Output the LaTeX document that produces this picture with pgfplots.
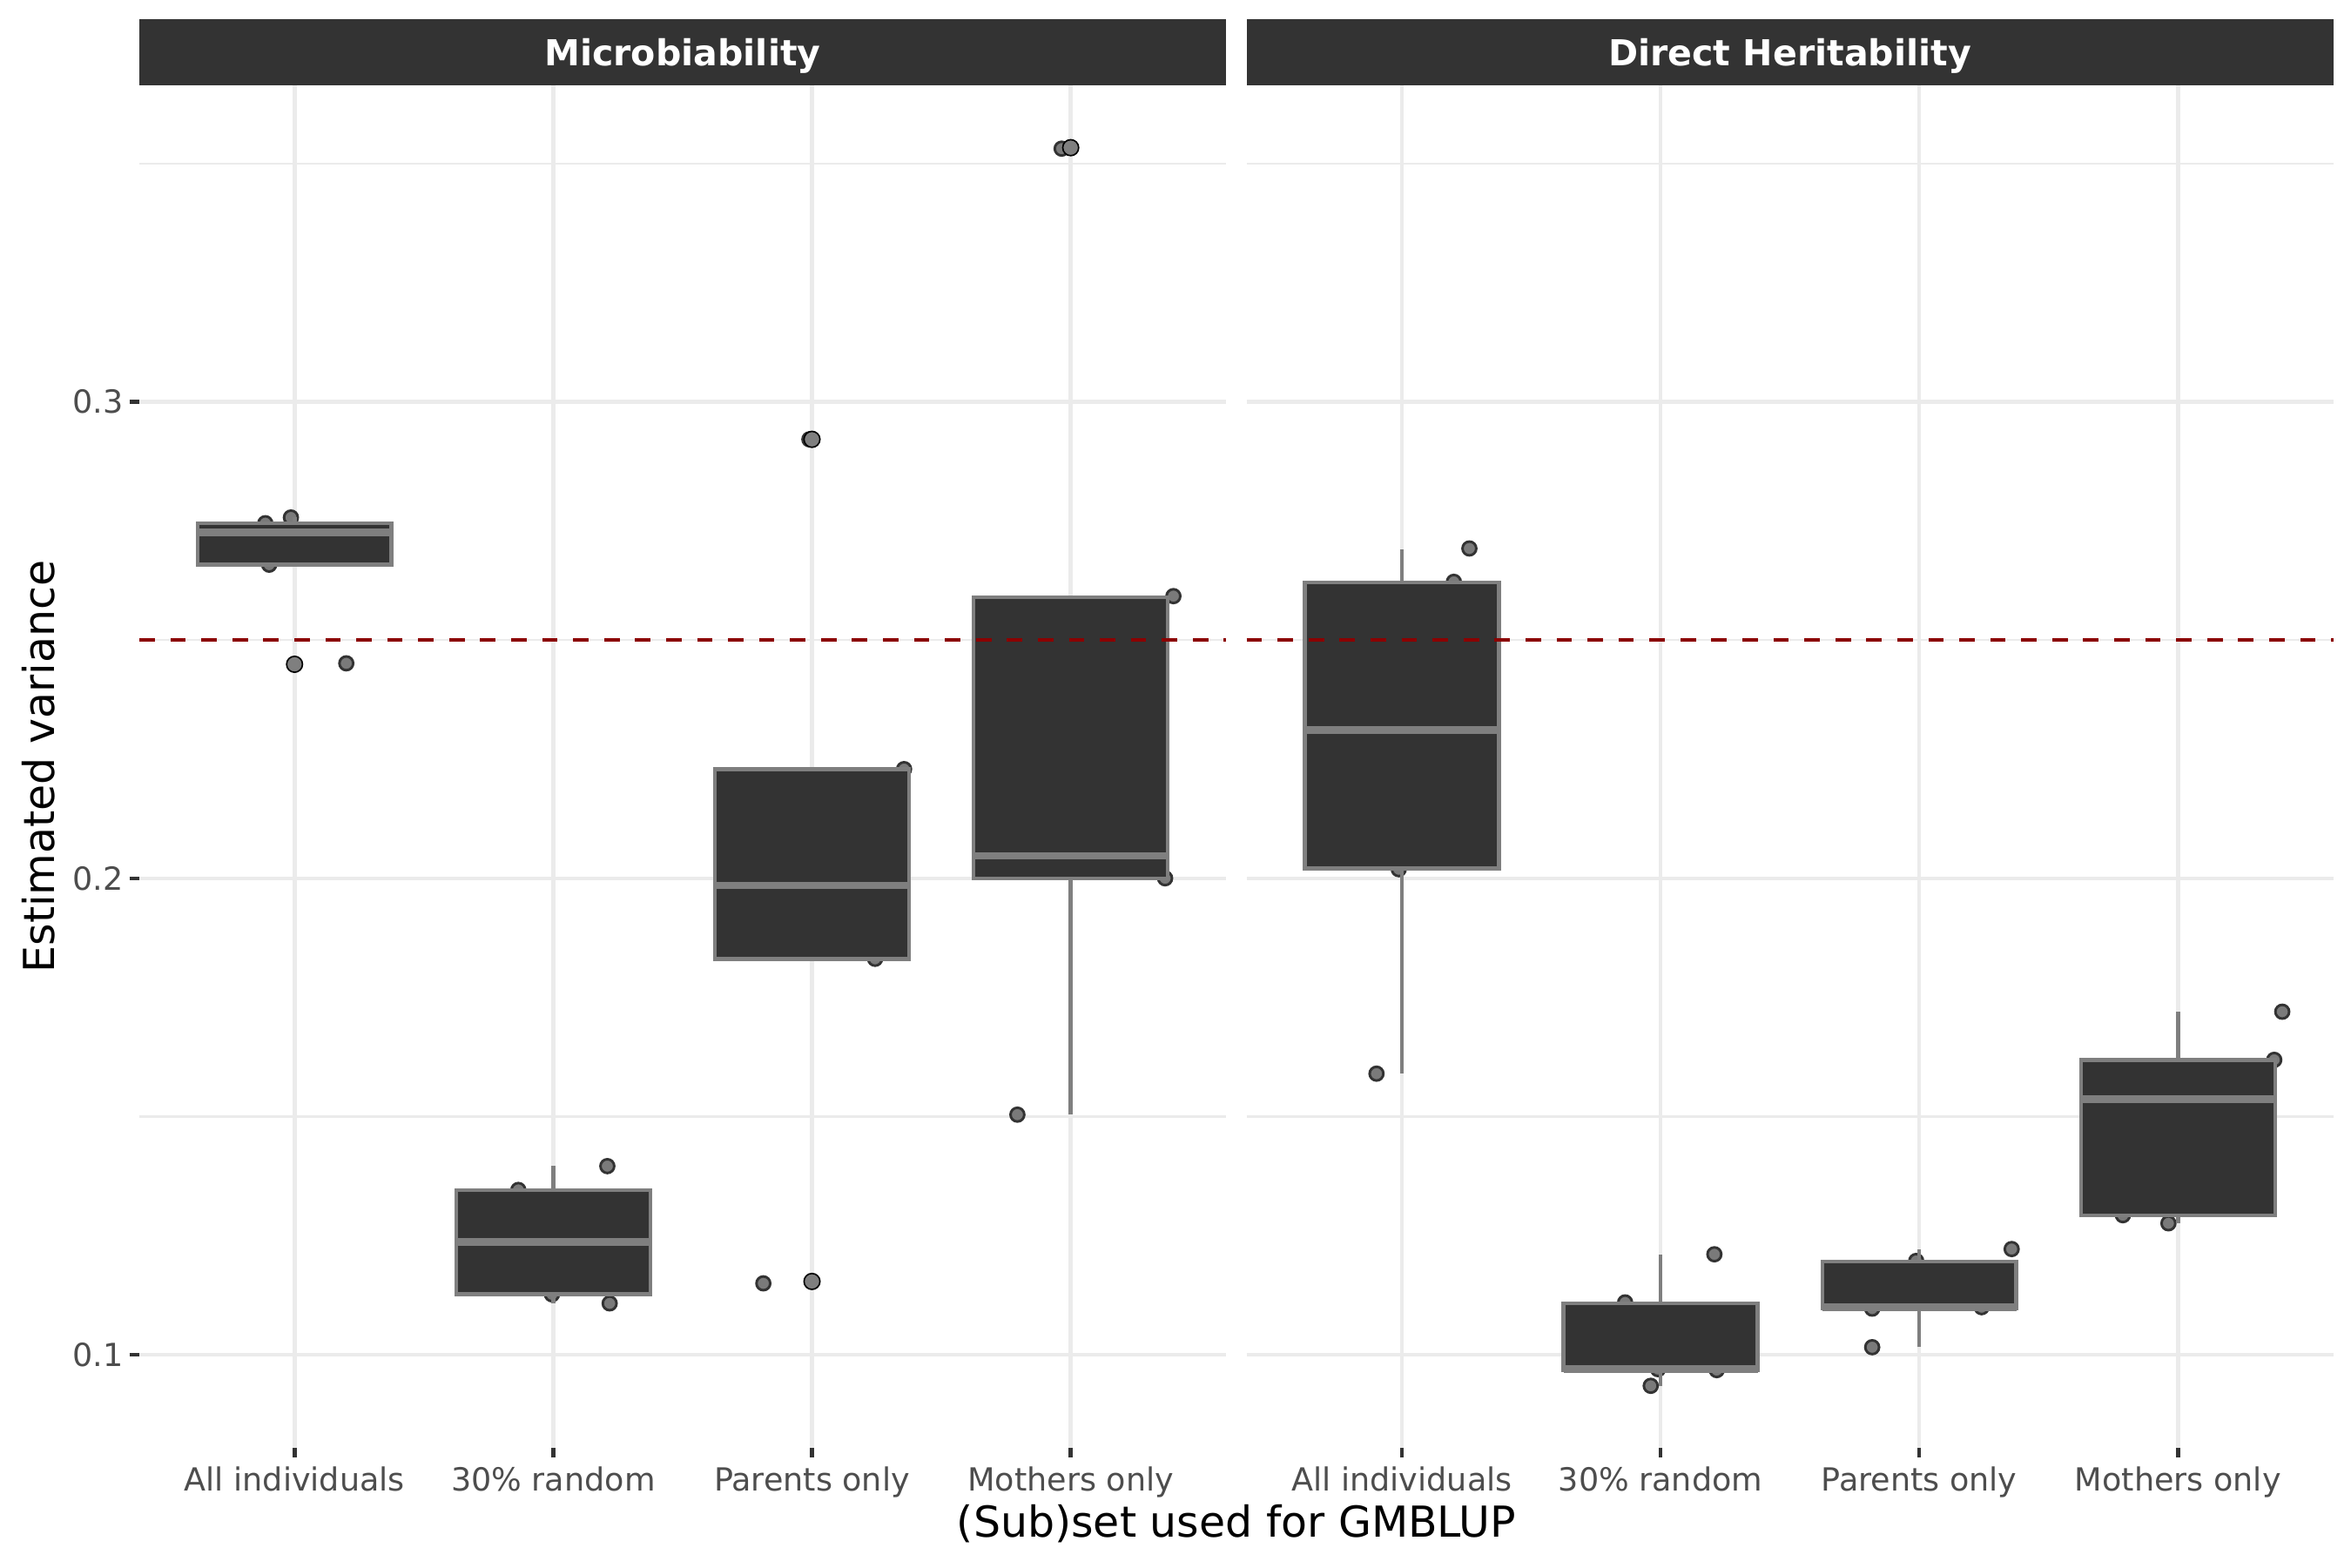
\documentclass[border=0pt]{standalone}
\usepackage{fontspec}
\setmainfont{DejaVu Sans}
\usepackage{pgfplots}
\pgfplotsset{compat=1.18}

\definecolor{stripbg}{HTML}{333333}
\definecolor{boxfill}{HTML}{333333}
\definecolor{boxline}{HTML}{7F7F7F}
\definecolor{gridc}{HTML}{EBEBEB}
\definecolor{ticklab}{HTML}{4D4D4D}
\definecolor{tickc}{HTML}{333333}
\definecolor{refred}{HTML}{8B0000}
\definecolor{ptfill}{HTML}{7A7A7A}
\definecolor{ptedge}{HTML}{333333}

\pgfplotsset{
  facet/.style={
    scale only axis, width=299.5bp, height=375.6bp,
    xmin=0.4, xmax=4.6, ymin=0.0805, ymax=0.3664,
    axis line style={draw=none},
    clip=false, clip marker paths=true,
    xtick={1,2,3,4},
    xticklabels={All individuals, 30\% random, Parents only, Mothers only},
    ytick={0.1,0.2,0.3}, minor ytick={0.15,0.25,0.35},
    grid=both,
    major grid style={draw=gridc, line width=1.07bp},
    minor grid style={draw=gridc, line width=0.53bp},
    tick align=outside, major tick length=2.7bp, minor tick length=0pt,
    xtick pos=lower, ytick pos=left,
    tick style={draw=tickc, line width=1.07bp},
    /pgf/number format/assume math mode=true,
    yticklabel style={font=\fontsize{8.8}{10}\selectfont, text=ticklab, anchor=east, inner sep=0pt, xshift=-1.5bp},
    xticklabel style={font=\fontsize{8.8}{10}\selectfont, text=ticklab, anchor=north, inner sep=0pt, yshift=-2.3bp},
    yticklabel={\pgfmathprintnumber[fixed,precision=1]{\tick}},
  },
  jit/.style={only marks, mark=*, mark size=1.9bp,
    mark options={fill=ptfill, draw=ptedge, line width=0.7bp}},
  outl/.style={only marks, mark=*, mark size=2.2bp,
    mark options={fill=boxline, draw=none}},
  wsk/.style={draw=boxline, line width=1.07bp, mark=none},
  boxs/.style={draw=boxline, fill=boxfill, line width=1.07bp, mark=none},
  med/.style={draw=boxline, line width=2.13bp, mark=none},
  refline/.style={refred, line width=1.07bp, mark=none, dash pattern=on 4.27bp off 4.27bp},
}

% box: #1 centre, #2 left edge, #3 right edge, #4 lower whisker, #5 lower quartile,
% #6 median, #7 upper quartile, #8 upper whisker
\newcommand{\gbox}[8]{%
  \addplot[wsk] coordinates {(#1,#4) (#1,#5)};
  \addplot[wsk] coordinates {(#1,#7) (#1,#8)};
  \addplot[boxs] coordinates {(#2,#5) (#3,#5) (#3,#7) (#2,#7)} -- cycle;
  \addplot[med] coordinates {(#2,#6) (#3,#6)};}

\newcommand{\strip}[1]{%
  \fill[stripbg] (rel axis cs:0,1) rectangle ([yshift=18.2bp]rel axis cs:1,1);
  \node[text=white, anchor=base, font=\fontsize{9.9}{11}\selectfont\bfseries]
    at ([yshift=5.3bp]rel axis cs:0.5,1) {#1};}

\begin{document}
\begin{tikzpicture}
\path[use as bounding box] (0,0) rectangle (648bp,432bp);

% ---------- Microbiability ----------
\begin{axis}[facet, at={(38.4bp,32.9bp)}, anchor=south west]
\addplot[jit] table {
x y
0.887 0.2745
0.986 0.2757
0.902 0.2658
1.200 0.2451
1.050 0.2726
1.865 0.1346
2.209 0.1396
1.995 0.1127
2.218 0.1108
2.050 0.1237
3.356 0.2229
3.244 0.1831
2.812 0.1150
2.990 0.2921
3.100 0.1985
3.965 0.3531
4.397 0.2592
4.365 0.2000
3.794 0.1504
4.100 0.2047
};
\gbox{1}{0.625}{1.375}{0.2658}{0.2658}{0.2726}{0.2745}{0.2757}
\gbox{2}{1.625}{2.375}{0.1108}{0.1127}{0.1237}{0.1346}{0.1396}
\gbox{3}{2.625}{3.375}{0.1831}{0.1831}{0.1985}{0.2229}{0.2229}
\gbox{4}{3.625}{4.375}{0.1504}{0.2000}{0.2047}{0.2590}{0.2590}
\addplot[outl] coordinates {(1,0.2449) (3,0.1154) (3,0.2921) (4,0.3533)};
\addplot[refline] coordinates {(0.4,0.25) (4.6,0.25)};
\strip{Microbiability}
\end{axis}

% ---------- Direct Heritability ----------
\begin{axis}[facet, at={(343.6bp,32.9bp)}, anchor=south west,
  yticklabels={}, every y tick/.style={draw=none}]
\addplot[jit] table {
x y
1.261 0.2692
1.201 0.2622
0.988 0.2019
0.902 0.1590
1.100 0.2311
1.863 0.1110
2.208 0.1211
1.990 0.0970
2.217 0.0968
1.962 0.0935
2.988 0.1197
3.357 0.1222
2.818 0.1097
3.241 0.1100
2.818 0.1016
3.787 0.1293
3.963 0.1276
4.403 0.1720
4.372 0.1619
4.100 0.1537
};
\gbox{1}{0.625}{1.375}{0.1590}{0.2021}{0.2311}{0.2621}{0.2691}
\gbox{2}{1.625}{2.375}{0.0935}{0.0968}{0.0970}{0.1108}{0.1210}
\gbox{3}{2.625}{3.375}{0.1016}{0.1097}{0.1100}{0.1196}{0.1221}
\gbox{4}{3.625}{4.375}{0.1276}{0.1293}{0.1537}{0.1619}{0.1720}
\addplot[refline] coordinates {(0.4,0.25) (4.6,0.25)};
\strip{Direct Heritability}
\end{axis}

\node[anchor=base, font=\fontsize{11.8}{13}\selectfont] at (340.8bp,8.3bp) {(Sub)set used for GMBLUP};
\node[anchor=base, rotate=90, font=\fontsize{11.8}{13}\selectfont] at (14.9bp,220.7bp) {Estimated variance};
\end{tikzpicture}
\end{document}
